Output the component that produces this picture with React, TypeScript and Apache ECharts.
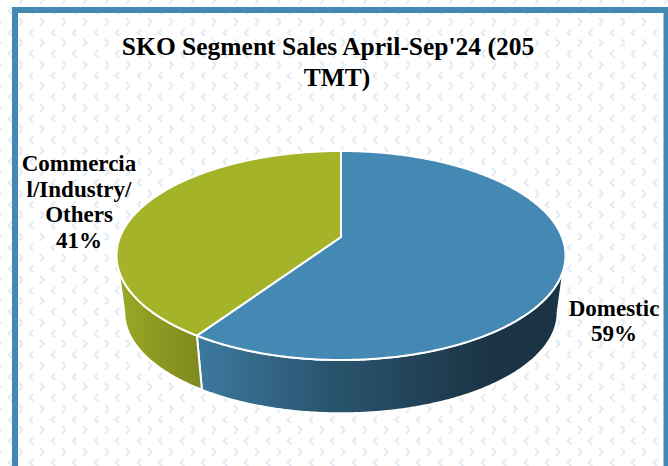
import React, { useEffect, useRef } from "react";
import * as echarts from "echarts";

const titleLines = ["SKO Segment Sales April-Sep'24 (205", "TMT)"];
const sliceNames = ["Domestic", "Commercial/Industry/Others"];
const sliceValues = [59, 41];
const sliceLabels = ["Domestic\n59%", "Commercia\nl/Industry/\nOthers\n41%"];

const FONT = '"Liberation Serif", serif';
const CX = 341;
const CY = 255.5;
const RX = 224.5;
const RY = 104.5;
const K = 0.22;
const APEX_Y = 237;
const BOTTOM_SCALE = 0.965;
const DEPTH = 57;
const TOP_COLORS = ["#4389b4", "#a4b327"];
const LABEL_POS = [
  [614, 321],
  [79, 202],
];

const chevrons =
  "<svg xmlns='http://www.w3.org/2000/svg' width='21.5' height='21.5'>" +
  "<path d='M4 3 L7.4 6.7 L4 10.4' fill='none' stroke='#e2edf5' stroke-width='2.2'/>" +
  "<path d='M18.8 13.6 L15.4 17.3 L18.8 21' fill='none' stroke='#e2edf5' stroke-width='2.2'/>" +
  "</svg>";

function project(theta: number, scale = 1, dy = 0): number[] {
  const u = Math.sin(theta);
  const v = -Math.cos(theta);
  const w = 1 - K * v;
  const x = (RX * Math.sqrt(1 - K * K) * u) / w;
  const y = (RY * (v - K)) / w;
  return [CX + x * scale, CY + y * scale + dy];
}

function sample(a: number, b: number, scale = 1, dy = 0): number[][] {
  const n = Math.max(2, Math.ceil(Math.abs(b - a) / 0.01));
  const pts: number[][] = [];
  for (let i = 0; i <= n; i++) pts.push(project(a + ((b - a) * i) / n, scale, dy));
  return pts;
}

function wallFill(i: number) {
  return i === 0
    ? new echarts.graphic.LinearGradient(
        195, 0, 490, 0,
        [
          { offset: 0, color: "#3d7aa0" },
          { offset: 0.45, color: "#2a556f" },
          { offset: 1, color: "#1b3445" },
        ],
        true
      )
    : new echarts.graphic.LinearGradient(
        118, 0, 200, 0,
        [
          { offset: 0, color: "#9aa825" },
          { offset: 1, color: "#7f8a1e" },
        ],
        true
      );
}

function renderItem(params: any, api: any) {
  const i = params.dataIndex;
  const total = sliceValues.reduce((s, v) => s + v, 0);
  const before = sliceValues.slice(0, i).reduce((s, v) => s + v, 0);
  const start = (before / total) * Math.PI * 2;
  const end = start + (api.value(0) / total) * Math.PI * 2;
  const frontStart = Math.PI / 2 + Math.asin(K);
  const frontEnd = (Math.PI * 3) / 2 - Math.asin(K);
  const a = Math.max(start, frontStart);
  const b = Math.min(end, frontEnd);
  const children: any[] = [];
  if (b > a) {
    children.push({
      type: "polygon",
      shape: {
        points: [
          ...sample(a, b),
          ...sample(b, a, BOTTOM_SCALE, DEPTH),
        ],
      },
      style: { fill: wallFill(i), stroke: "#ffffff", lineWidth: 2, lineJoin: "round" },
    });
  }
  children.push({
    type: "polygon",
    shape: { points: [[CX, APEX_Y], ...sample(start, end)] },
    style: { fill: TOP_COLORS[i], stroke: "#ffffff", lineWidth: 2, lineJoin: "round" },
  });
  children.push({
    type: "text",
    style: {
      text: sliceLabels[i],
      x: LABEL_POS[i][0],
      y: LABEL_POS[i][1],
      align: "center",
      verticalAlign: "middle",
      font: `bold 23px ${FONT}`,
      lineHeight: 25.5,
      fill: "#000000",
    },
  });
  return { type: "group", children };
}

const titleStyle = {
  fontFamily: FONT,
  fontWeight: "bold",
  fontSize: 25.5,
  lineHeight: 31,
  color: "#000000",
};

export default function App() {
  const ref = useRef<HTMLDivElement>(null);
  useEffect(() => {
    document.body.style.margin = "0";
    const chart = echarts.init(ref.current!, undefined, { renderer: "svg" });
    chart.setOption({
      animation: false,
      title: [
        { text: titleLines[0], left: 323, top: 26, textAlign: "center", textStyle: titleStyle },
        { text: titleLines[1], left: 332, top: 57, textAlign: "center", textStyle: titleStyle },
      ],
      graphic: [
        {
          type: "rect",
          shape: { x: 15, y: 10, width: 651.5, height: 500 },
          style: { fill: "none", stroke: "#4389b4", lineWidth: 6 },
          z: 0,
        },
      ],
      series: [
        {
          type: "custom",
          coordinateSystem: "none",
          renderItem,
          data: sliceValues.map((value, i) => ({ name: sliceNames[i], value })),
        },
      ],
    });
    return () => chart.dispose();
  }, []);
  return (
    <div
      style={{
        width: 668,
        height: 466,
        overflow: "hidden",
        backgroundColor: "#ffffff",
        backgroundImage: `url("data:image/svg+xml,${encodeURIComponent(chevrons)}")`,
        backgroundSize: "21.5px 21.5px",
        backgroundPosition: "14.7px 15px",
      }}
    >
      <div ref={ref} style={{ width: 668, height: 466 }} />
    </div>
  );
}
